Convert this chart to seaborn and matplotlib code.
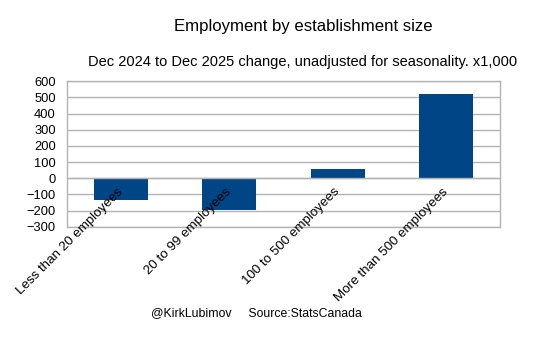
import matplotlib
matplotlib.use("Agg")
import matplotlib.pyplot as plt
import seaborn as sns
import pandas as pd
from matplotlib.ticker import FixedLocator

# Change in employment, thousands
categories = ["Less than 20 employees", "20 to 99 employees",
              "100 to 500 employees", "More than 500 employees"]
changes = [-136, -197, 57, 519]
y_ticks = [-300, -200, -100, 0, 100, 200, 300, 400, 500, 600]

title = "Employment by establishment size"
subtitle = "Dec 2024 to Dec 2025 change, unadjusted for seasonality. x1,000"
credit = "@KirkLubimov     Source:StatsCanada"

df = pd.DataFrame({"size": categories, "change": changes})

sns.set_theme(style="white")
plt.rcParams["font.family"] = ["Liberation Sans", "DejaVu Sans"]

BAR = "#004586"
GRID = "#b3b3b3"

fig = plt.figure(figsize=(5.54, 3.40), dpi=100)
ax = fig.add_axes([67 / 554, 1 - 226.8 / 340, (500 - 67) / 554, (226.8 - 81.3) / 340])

sns.barplot(data=df, x="size", y="change", color=BAR, width=0.5,
            saturation=1, edgecolor="none", ax=ax)

ax.set_xlim(-0.5, len(categories) - 0.5)
ax.set_ylim(min(y_ticks), max(y_ticks))
ax.yaxis.set_major_locator(FixedLocator(y_ticks))
ax.grid(axis="y", color=GRID, linewidth=1.0)
ax.grid(axis="x", visible=False)
# gridlines behind the bars, category labels in front of them
ax.yaxis.set_zorder(0.5)
ax.xaxis.set_zorder(3)

# Category axis crosses at zero; labels sit at centres, marks at boundaries
ax.spines["bottom"].set_position(("data", 0))
for side in ["left", "right", "top", "bottom"]:
    ax.spines[side].set_color(GRID)
    ax.spines[side].set_linewidth(1.0)
ax.axhline(min(y_ticks), color=GRID, linewidth=1.0, clip_on=False, zorder=0.5)

ax.xaxis.set_minor_locator(FixedLocator([i + 0.5 for i in range(-1, len(categories))]))
ax.tick_params(axis="x", which="major", length=0, pad=8.5)
ax.tick_params(axis="x", which="minor", length=5, width=1, color=GRID, direction="out")
ax.tick_params(axis="y", which="major", length=5, width=1, color=GRID,
               direction="out", labelsize=9.3, labelcolor="black", pad=3)
ax.set_xticks(range(len(categories)))
ax.set_xticklabels(categories, rotation=45, ha="right", va="center",
                   rotation_mode="anchor", fontsize=9.6, color="black")

ax.set_xlabel("")
ax.set_ylabel("")

fig.text(303 / 554, 1 - 27 / 340, title, ha="center", va="center",
         fontsize=12.1, color="black")
fig.text(303 / 554, 1 - 62 / 340, subtitle, ha="center", va="center",
         fontsize=10.55, color="black")
fig.text(256.5 / 554, 1 - 313 / 340, credit, ha="center", va="center",
         fontsize=8.8, color="black")

fig.savefig("out.png", dpi=100, facecolor="white")
